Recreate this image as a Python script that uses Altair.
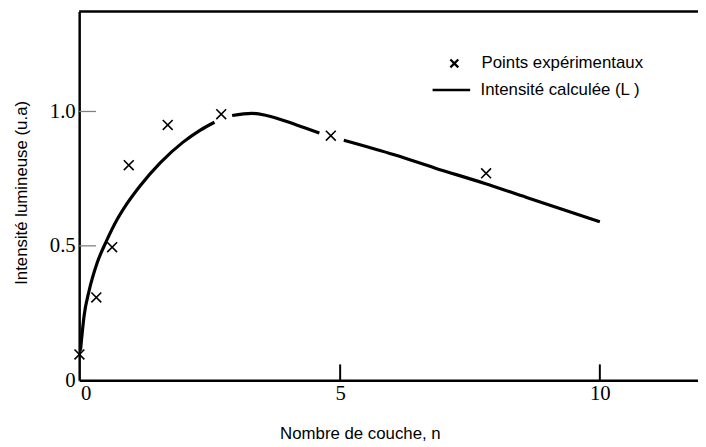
import altair as alt
import pandas as pd

# Experimental points (n, intensity)
pts_n = [-0.02, 0.305, 0.61, 0.93, 1.68, 2.71, 4.82, 7.81]
pts_i = [0.096, 0.308, 0.495, 0.80, 0.95, 0.99, 0.91, 0.77]

# Calculated intensity curve, drawn in three pieces (broken around markers)
seg1_n = [0.0, 0.07, 0.165, 0.32, 0.51, 0.70, 0.895, 1.15, 1.53, 1.97, 2.30, 2.58]
seg1_i = [0.11, 0.24, 0.332, 0.436, 0.522, 0.596, 0.657, 0.724, 0.808, 0.885, 0.93, 0.96]
seg2_n = [2.92, 3.30, 3.58, 4.16, 4.60]
seg2_i = [0.985, 0.993, 0.985, 0.95, 0.92]
seg3_n = [5.07, 6.06, 6.82, 7.77, 8.59, 10.0]
seg3_i = [0.893, 0.838, 0.79, 0.733, 0.68, 0.59]

x_ticks = [0, 5, 10]
y_ticks = [0, 0.5, 1.0]

lbl_pts = "Points expérimentaux"
lbl_curve = "Intensité calculée (L )"

points = pd.DataFrame({"n": pts_n, "I": pts_i, "series": lbl_pts})
curve = pd.concat([
    pd.DataFrame({"n": seg1_n, "I": seg1_i, "seg": 1}),
    pd.DataFrame({"n": seg2_n, "I": seg2_i, "seg": 2}),
    pd.DataFrame({"n": seg3_n, "I": seg3_i, "seg": 3}),
], ignore_index=True)
curve["series"] = lbl_curve

W, H = 626, 373
xs = alt.Scale(domain=[-0.025, 11.89], nice=False, zero=False)
ys = alt.Scale(domain=[0, 1.372], nice=False)

SERIF = "'Liberation Serif', 'Times New Roman', serif"
SANS = "'Liberation Sans', Arial, sans-serif"

xaxis = alt.Axis(
    values=x_ticks, ticks=False, tickSize=0, grid=False,
    domainColor="black", domainWidth=2.5,
    labelFont=SERIF, labelFontSize=21, labelColor="black", labelPadding=3,
    labelAlign={"condition": {"test": "datum.value === 0", "value": "left"}, "value": "center"},
    title="Nombre de couche, n", titleFont=SANS, titleFontSize=17,
    titleFontWeight="normal", titleColor="black",
    titleX=284, titleY=59, titleBaseline="alphabetic", titleAlign="center",
)
yaxis = alt.Axis(
    values=y_ticks, ticks=False, tickSize=0, grid=False,
    domainColor="black", domainWidth=2.5,
    labelFont=SERIF, labelFontSize=21, labelColor="black", labelPadding=4,
    labelExpr="datum.value == 0 ? '0' : format(datum.value, '.1f')",
    title="Intensité lumineuse (u.a)", titleFont=SANS, titleFontSize=17,
    titleFontWeight="normal", titleColor="black",
    titleX=-58, titleY=183, titleBaseline="middle", titleAlign="center", titleAngle=-90,
)

X = lambda f: alt.X(f, type="quantitative", scale=xs, axis=xaxis)
Y = lambda f: alt.Y(f, type="quantitative", scale=ys, axis=yaxis)

top_border = alt.Chart(pd.DataFrame({"a": [0]})).mark_rule(
    color="black", strokeWidth=2.5
).encode(x=alt.value(0), x2=alt.value(W), y=alt.value(0))

ytick_df = pd.DataFrame({"v": [v for v in y_ticks if v > 0]})
yticks = alt.Chart(ytick_df).mark_rule(color="#808080", strokeWidth=1.3).encode(
    y=Y("v"), x=alt.value(0), x2=alt.value(17)
)

xtick_df = pd.DataFrame({"v": [v for v in x_ticks if v > 0]})
xticks = alt.Chart(xtick_df).mark_rule(color="black", strokeWidth=2).encode(
    x=X("v"), y=alt.value(H), y2=alt.value(H - 16)
)

line = alt.Chart(curve).mark_line(strokeWidth=3.2, interpolate="monotone").encode(
    x=X("n"), y=Y("I"), detail="seg:N",
    stroke=alt.Stroke("series:N", scale=alt.Scale(domain=[lbl_curve], range=["black"]),
                      legend=alt.Legend(title=None, orient="none", legendX=356, legendY=59,
                                        symbolType="stroke", symbolSize=1444,
                                        symbolStrokeWidth=2.5, symbolStrokeColor="black",
                                        labelFont=SANS, labelFontSize=17, labelColor="black",
                                        labelOffset=9, labelLimit=400, padding=0)),
)

xpath = "M-1,-1L1,1M1,-1L-1,1"
pts = alt.Chart(points).mark_point(filled=False, color="black", opacity=1, size=100,
                                   strokeWidth=1.6).encode(
    x=X("n"), y=Y("I"),
    shape=alt.Shape("series:N", scale=alt.Scale(domain=[lbl_pts], range=[xpath]),
                    legend=alt.Legend(title=None, orient="none", legendX=371, legendY=44,
                                      symbolSize=64, symbolStrokeWidth=2.3,
                                      symbolStrokeColor="black", symbolFillColor="transparent",
                                      symbolOpacity=1,
                                      labelFont=SANS, labelFontSize=17, labelColor="black",
                                      labelOffset=19, labelLimit=400, padding=0)),
)

chart = alt.layer(top_border, yticks, xticks, line, pts).properties(
    width=W, height=H,
    autosize=alt.AutoSizeParams(type="none"),
    padding={"left": 72, "top": 1, "right": 0, "bottom": 64},
    background="white",
).configure_view(stroke=None)

chart.save("out.html", embed_options={"renderer": "svg", "actions": False})
